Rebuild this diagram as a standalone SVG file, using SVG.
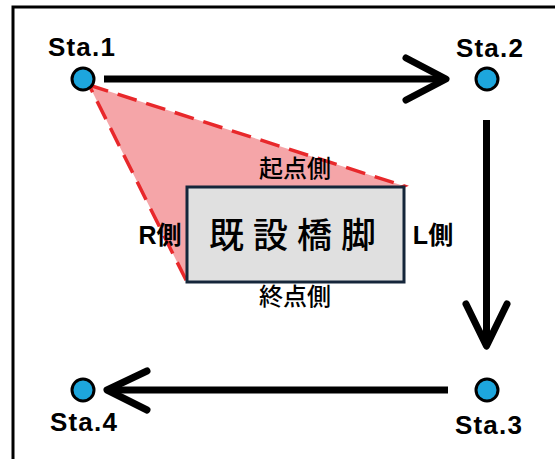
<svg xmlns="http://www.w3.org/2000/svg" width="555" height="459" viewBox="0 0 555 459">
<style>
.sta{fill:#1da6dd;stroke:#000;stroke-width:3}
.lbl{font-family:"Liberation Sans",Arial,sans-serif;font-weight:bold;font-size:26px;letter-spacing:1.2px;fill:#000;text-anchor:middle}
.arr{fill:none;stroke:#000;stroke-width:7;stroke-linecap:round;stroke-linejoin:round}
.side{font-family:"Noto Sans CJK JP","Noto Sans",sans-serif;font-weight:500;font-size:24px;fill:#000;text-anchor:middle}
.sideb{font-family:"Liberation Sans","Noto Sans CJK JP",sans-serif;font-weight:bold;font-size:25px;fill:#000;text-anchor:middle}
</style>
<rect width="555" height="459" fill="#fff"/>
<path d="M13 470 V7 H560" fill="none" stroke="#000" stroke-width="3"/>
<g id="zone">
<polygon points="89,85 404,186 187,282" fill="#f5a5a8" stroke="#e8282b" stroke-width="3.5" stroke-dasharray="20,10"/>
</g>
<g id="connectors">
<path class="arr" d="M406 58 L446 79 L406 100"/>
<path class="arr" d="M466 304 L486.5 346 L507 304"/>
<path class="arr" d="M147 371 L107 390 L147 410"/>
<path d="M104 79 H442 M486.5 120 V342 M448 390 H112" fill="none" stroke="#000" stroke-width="7"/>
</g>
<g id="sta1"><circle class="sta" cx="83" cy="79" r="11"/><text class="lbl" x="82" y="56">Sta.1</text></g>
<g id="sta2"><circle class="sta" cx="487" cy="79" r="11"/><text class="lbl" x="490" y="57">Sta.2</text></g>
<g id="sta3"><circle class="sta" cx="487" cy="390" r="11"/><text class="lbl" x="489" y="434">Sta.3</text></g>
<g id="sta4"><circle class="sta" cx="83" cy="390" r="11"/><text class="lbl" x="84" y="431">Sta.4</text></g>
<g id="pier">
<rect x="187" y="187" width="217" height="95" fill="#e0e0e0" stroke="#15263a" stroke-width="3"/>
<text x="297" y="248" font-family="'Noto Sans CJK JP',sans-serif" font-weight="500" font-size="35" letter-spacing="9" text-anchor="middle" fill="#000">既設橋脚</text>
</g>
<g id="labels">
<text class="side" x="295" y="177">起点側</text>
<text class="side" x="295" y="305">終点側</text>
<text class="sideb" x="160" y="244">R側</text>
<text class="sideb" x="433" y="244">L側</text>
</g>
</svg>
